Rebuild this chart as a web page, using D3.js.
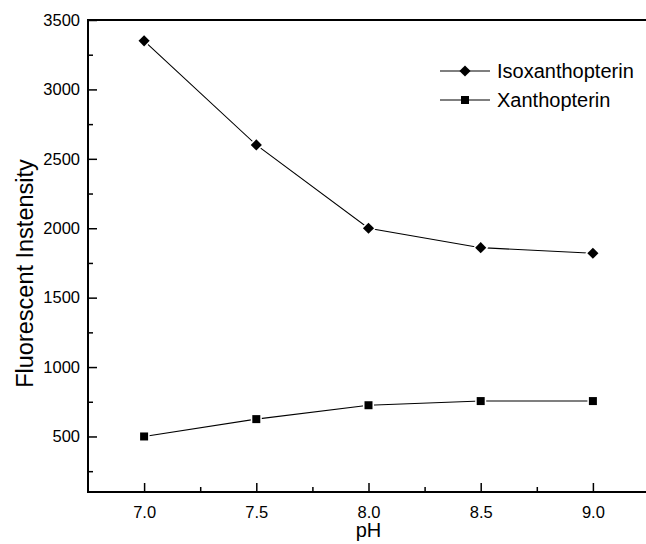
<!DOCTYPE html>
<html>
<head>
<meta charset="utf-8">
<script src="https://cdn.jsdelivr.net/npm/d3@7"></script>
<style>
  html, body { margin: 0; padding: 0; background: #fff; }
  svg { display: block; }
  text { font-family: "Liberation Sans", Arial, Helvetica, sans-serif; fill: #000; }
</style>
</head>
<body>
<svg id="chart" width="646" height="544"></svg>
<script>
// ---- data ----
const phValues = [7.0, 7.5, 8.0, 8.5, 9.0];
const isoxanthopterin = [3350, 2600, 2000, 1860, 1820];
const xanthopterin = [500, 625, 725, 755, 755];
const seriesNames = ["Isoxanthopterin", "Xanthopterin"];
const xTickValues = [7.0, 7.5, 8.0, 8.5, 9.0];
const xMinorTicks = [7.25, 7.75, 8.25, 8.75];
const yTickValues = [500, 1000, 1500, 2000, 2500, 3000, 3500];
const yMinorTicks = [250, 750, 1250, 1750, 2250, 2750, 3250];
const xTitle = "pH";
const yTitle = "Fluorescent Instensity";

// ---- layout ----
const mLeft = 88, mTop = 20, mBottom = 492, mRight = 649;

const svg = d3.select("#chart");
const x = d3.scaleLinear().domain([6.75, 9.25]).range([mLeft, mRight]);
const y = d3.scaleLinear().domain([100, 3500]).range([mBottom, mTop]);

// axes
const gx = svg.append("g").attr("transform", `translate(0,${mBottom})`)
  .call(d3.axisBottom(x).tickValues(xTickValues).tickFormat(d3.format(".1f"))
    .tickSizeInner(-9).tickSizeOuter(0).tickPadding(14));
const gxm = svg.append("g").attr("transform", `translate(0,${mBottom})`)
  .call(d3.axisBottom(x).tickValues(xMinorTicks).tickFormat("")
    .tickSizeInner(-5).tickSizeOuter(0));
const gy = svg.append("g").attr("transform", `translate(${mLeft},0)`)
  .call(d3.axisLeft(y).tickValues(yTickValues).tickFormat(d3.format("d"))
    .tickSizeInner(-9).tickSizeOuter(0).tickPadding(8));
const gym = svg.append("g").attr("transform", `translate(${mLeft},0)`)
  .call(d3.axisLeft(y).tickValues(yMinorTicks).tickFormat("")
    .tickSizeInner(-5).tickSizeOuter(0));

[gx, gxm, gy, gym].forEach(g => {
  g.select(".domain").remove();
  g.selectAll("line").attr("stroke", "#000").attr("stroke-width", 1.5);
  g.selectAll("text").attr("font-size", 16.5).attr("fill", "#000")
    .style("font-family", '"Liberation Sans", Arial, sans-serif');
});

// frame lines (left, top, bottom)
svg.append("line").attr("x1", mLeft).attr("x2", mLeft).attr("y1", mTop - 1).attr("y2", mBottom + 1)
  .attr("stroke", "#000").attr("stroke-width", 2);
svg.append("line").attr("x1", mLeft).attr("x2", mRight).attr("y1", mTop).attr("y2", mTop)
  .attr("stroke", "#000").attr("stroke-width", 2);
svg.append("line").attr("x1", mLeft).attr("x2", mRight).attr("y1", mBottom).attr("y2", mBottom)
  .attr("stroke", "#000").attr("stroke-width", 2);

// axis titles
svg.append("text").attr("x", x(8.0)).attr("y", 537).attr("text-anchor", "middle")
  .attr("font-size", 20).text(xTitle);
svg.append("text").attr("transform", "translate(33,273.5) rotate(-90)")
  .attr("text-anchor", "middle").attr("font-size", 23.5).text(yTitle);

// series
const line = d3.line().x(d => x(d[0])).y(d => y(d[1]));
const diamond = d3.symbol().type(d3.symbolSquare).size(62);
const square = d3.symbol().type(d3.symbolSquare).size(64);

const series = [
  { name: seriesNames[0], values: isoxanthopterin, sym: diamond, rot: 45 },
  { name: seriesNames[1], values: xanthopterin, sym: square, rot: 0 }
];

series.forEach(s => {
  const pts = phValues.map((p, i) => [p, s.values[i]]);
  svg.append("path").attr("d", line(pts)).attr("fill", "none")
    .attr("stroke", "#000").attr("stroke-width", 1.1);
  svg.selectAll(null).data(pts).enter().append("path")
    .attr("d", s.sym())
    .attr("transform", d => `translate(${x(d[0])},${y(d[1])}) rotate(${s.rot})`)
    .attr("fill", "#000").attr("stroke", "#fff").attr("stroke-width", 3)
    .style("paint-order", "stroke");
});

// legend
const legY = [71, 100];
series.forEach((s, i) => {
  const g = svg.append("g");
  g.append("line").attr("x1", 440).attr("x2", 490).attr("y1", legY[i]).attr("y2", legY[i])
    .attr("stroke", "#000").attr("stroke-width", 1.1);
  g.append("path").attr("d", s.sym())
    .attr("transform", `translate(465,${legY[i]}) rotate(${s.rot})`)
    .attr("fill", "#000");
  g.append("text").attr("x", 497).attr("y", legY[i] + 7).attr("font-size", 20).text(s.name);
});
</script>
</body>
</html>
